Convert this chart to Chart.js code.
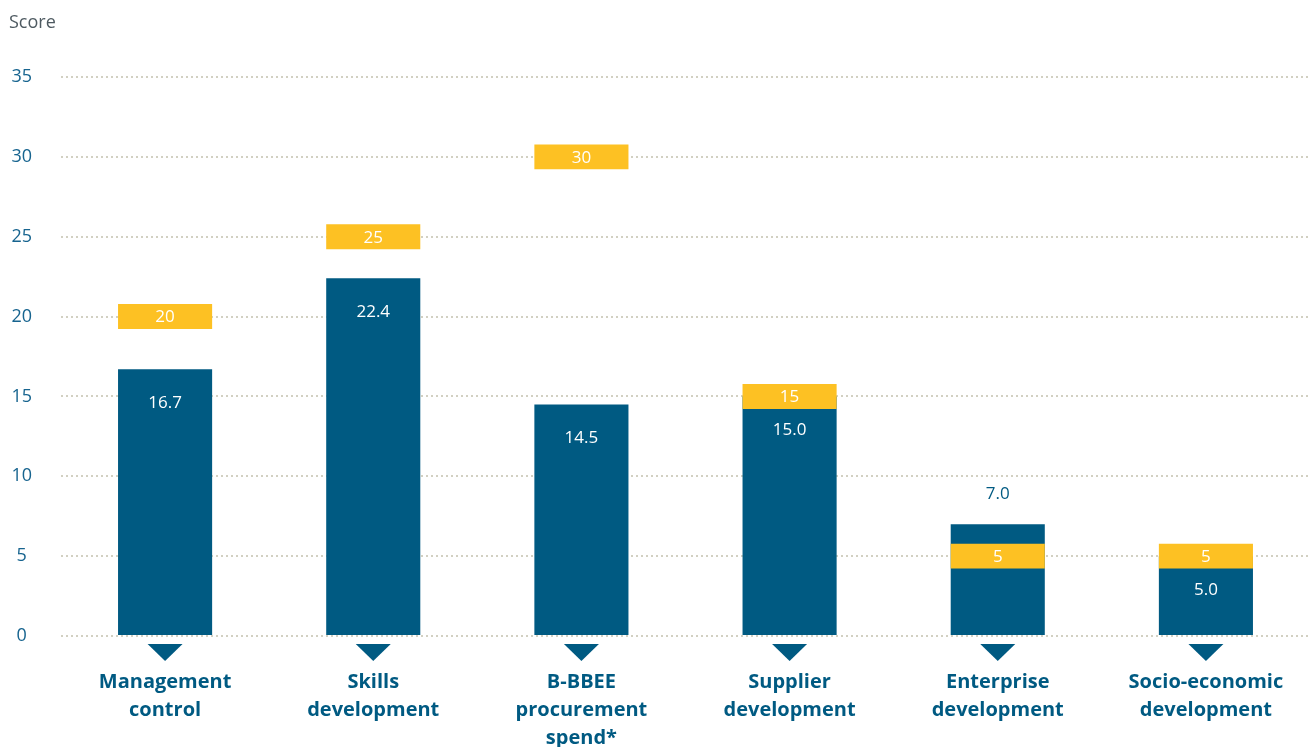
<!DOCTYPE html>
<html>
<head>
<meta charset="utf-8">
<script src="https://cdn.jsdelivr.net/npm/chart.js@4"></script>
<style>
  html, body { margin: 0; padding: 0; background: #fff; }
  #wrap { width: 1310px; height: 747px; position: relative; }
</style>
</head>
<body>
<div id="wrap"><canvas id="myChart"></canvas></div>
<script>
const categories = [
    ['Management', 'control'],
    ['Skills', 'development'],
    ['B-BBEE', 'procurement', 'spend*'],
    ['Supplier', 'development'],
    ['Enterprise', 'development'],
    ['Socio-economic', 'development']
];
const scores = [16.7, 22.4, 14.5, 15.0, 7.0, 5.0];
const targets = [20, 25, 30, 15, 5, 5];
const yTicks = [0, 5, 10, 15, 20, 25, 30, 35];

const blue = '#005a82';
const yellow = '#fdc123';
const font = "'Open Sans', 'Noto Sans', sans-serif";

// target marker = thin band around the target value
const band = 0.78;
const targetBands = targets.map(t => [t - band, t + band]);

const labelsPlugin = {
    id: 'labels',
    afterDatasetsDraw(chart) {
        const ctx = chart.ctx;
        const x = chart.scales.x;
        const y = chart.scales.y;
        const blueMeta = chart.getDatasetMeta(1);
        const yellowMeta = chart.getDatasetMeta(0);
        ctx.save();
        ctx.textAlign = 'center';
        ctx.textBaseline = 'middle';
        ctx.font = '17px ' + font;

        // target labels
        yellowMeta.data.forEach((bar, i) => {
            ctx.fillStyle = '#fff';
            ctx.fillText(String(targets[i]), bar.x, y.getPixelForValue(targets[i]) + 1);
        });

        // score labels
        blueMeta.data.forEach((bar, i) => {
            let ly = bar.y + 34;
            const bandTop = y.getPixelForValue(targets[i] + band);
            const bandBottom = y.getPixelForValue(targets[i] - band);
            if (ly + 9 > bandTop && ly - 9 < bandBottom) {
                ly = bar.y - 30;
                ctx.fillStyle = blue;
            } else {
                ctx.fillStyle = '#fff';
            }
            ctx.fillText(scores[i].toFixed(1), bar.x, ly);
        });

        // little arrows under each bar
        ctx.fillStyle = blue;
        categories.forEach((c, i) => {
            const cx = x.getPixelForValue(i);
            const top = chart.chartArea.bottom + 8;
            ctx.beginPath();
            ctx.moveTo(cx - 17.5, top);
            ctx.lineTo(cx + 17.5, top);
            ctx.lineTo(cx, top + 17);
            ctx.closePath();
            ctx.fill();
        });

        // axis title
        ctx.textAlign = 'left';
        ctx.fillStyle = '#4e5a61';
        ctx.font = '18px ' + font;
        ctx.fillText('Score', 9, 23);
        ctx.restore();
    }
};

const ctx = document.getElementById('myChart');

new Chart(ctx, {
    type: 'bar',
    data: {
        labels: categories,
        datasets: [{
            label: 'Target',
            data: targetBands,
            backgroundColor: yellow,
            order: 0
        }, {
            label: 'Score',
            data: scores,
            backgroundColor: blue,
            order: 1
        }]
    },
    options: {
        responsive: true,
        maintainAspectRatio: false,
        animation: false,
        grouped: false,
        barPercentage: 0.452,
        categoryPercentage: 1,
        layout: { padding: { top: 77, right: 0, left: 0, bottom: 0 } },
        plugins: {
            legend: { display: false },
            tooltip: { enabled: false }
        },
        scales: {
            x: {
                grid: { display: false, drawTicks: false },
                border: { display: false },
                ticks: {
                    color: blue,
                    padding: 32,
                    autoSkip: false,
                    maxRotation: 0,
                    font: { family: font, size: 20, weight: 'bold', lineHeight: 1.4 }
                },
                afterFit(scale) {
                    scale.height = 111;
                    scale.paddingLeft = 0;
                    scale.paddingRight = 0;
                }
            },
            y: {
                min: 0,
                max: 35,
                afterBuildTicks(scale) { scale.ticks = yTicks.map(v => ({ value: v })); },
                grid: { color: '#d2d0c2', lineWidth: 2, drawTicks: false },
                border: { display: false, dash: [2, 3] },
                ticks: {
                    color: '#17648f',
                    padding: 29,
                    crossAlign: 'center',
                    font: { family: font, size: 18 }
                },
                afterFit(scale) { scale.width = 61; }
            }
        }
    },
    plugins: [labelsPlugin]
});
</script>
</body>
</html>
